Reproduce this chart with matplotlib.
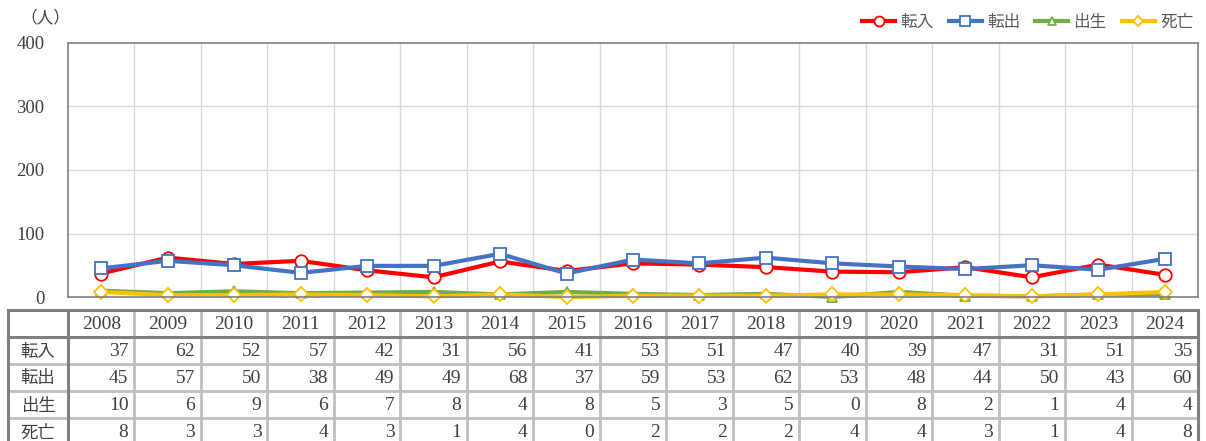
import matplotlib.pyplot as plt
from matplotlib.lines import Line2D

# データ
years = ["2008", "2009", "2010", "2011", "2012", "2013", "2014", "2015", "2016",
         "2017", "2018", "2019", "2020", "2021", "2022", "2023", "2024"]
tennyu = [37, 62, 52, 57, 42, 31, 56, 41, 53, 51, 47, 40, 39, 47, 31, 51, 35]
tenshutsu = [45, 57, 50, 38, 49, 49, 68, 37, 59, 53, 62, 53, 48, 44, 50, 43, 60]
shussei = [10, 6, 9, 6, 7, 8, 4, 8, 5, 3, 5, 0, 8, 2, 1, 4, 4]
shibou = [8, 3, 3, 4, 3, 1, 4, 0, 2, 2, 2, 4, 4, 3, 1, 4, 8]
series_names = ["転入", "転出", "出生", "死亡"]
yticks = [0, 100, 200, 300, 400]

FONT = ["Liberation Serif", "Noto Sans CJK JP"]
JP = ["Noto Sans CJK JP", "DejaVu Sans"]
TXT = "#404040"

W, H = 1206, 441
fig = plt.figure(figsize=(W / 100, H / 100), dpi=100)

# グラフ領域 (ピクセル)
x0, x1 = 68, 1198
y_top, y_bot = 43, 297
ax = fig.add_axes([x0 / W, 1 - y_bot / H, (x1 - x0) / W, (y_bot - y_top) / H])

n = len(years)
xs = list(range(n))

styles = [
    (tennyu, "#FF0000", "o", 9),
    (tenshutsu, "#4472C4", "s", 9),
    (shussei, "#70AD47", "^", 7.5),
    (shibou, "#FFC000", "D", 7),
]
handles = []
for (vals, col, mk, ms), name in zip(styles, series_names):
    ln, = ax.plot(xs, vals, color=col, lw=3, marker=mk, ms=ms,
                  mfc="white", mec=col, mew=1.3, label=name, clip_on=False,
                  solid_joinstyle="round")
    handles.append(ln)

ax.set_xlim(-0.5, n - 0.5)
ax.set_ylim(0, 400)
ax.set_yticks(yticks)
ax.set_yticklabels([str(v) for v in yticks], family=FONT, fontsize=13.5, color=TXT)
ax.tick_params(axis="y", length=0, pad=17)
ax.set_xticks([])
for b in range(1, n):
    ax.axvline(b - 0.5, color="#D9D9D9", lw=1, zorder=0)
for v in yticks[1:-1]:
    ax.axhline(v, color="#D9D9D9", lw=1, zorder=0)
for s in ax.spines.values():
    s.set_color("#808080")
    s.set_linewidth(1.2)

fig.text(20 / W, 1 - 18 / H, "（人）", family=JP, fontsize=12, color=TXT,
         ha="left", va="center")

leg = fig.legend(handles=handles, loc="center right", ncol=4,
                 bbox_to_anchor=(1200 / W, 1 - 22 / H), frameon=False,
                 prop={"family": JP, "size": 12}, handlelength=2.0,
                 markerscale=0.8, columnspacing=0.9, handletextpad=0.3,
                 borderaxespad=0)
for t in leg.get_texts():
    t.set_color("#595959")

# データテーブル
tx0 = 8
col_w = (x1 - x0) / n
row_top = 310
row_h = 27
rows = [tennyu, tenshutsu, shussei, shibou]


def fx(px):
    return px / W


def fy(py):
    return 1 - py / H


light = "#BFBFBF"
dark = "#808080"
nrows = len(rows) + 1
tab_bot = row_top + row_h * nrows

# 縦線
for k in range(1, n):
    xp = x0 + k * col_w
    fig.add_artist(Line2D([fx(xp), fx(xp)], [fy(row_top), fy(tab_bot)],
                          color=light, lw=2))
# 横線
for r in range(2, nrows):
    yp = row_top + r * row_h
    fig.add_artist(Line2D([fx(tx0), fx(x1)], [fy(yp), fy(yp)], color=light, lw=2))
# 濃い線
for xp in (tx0, x0, x1):
    fig.add_artist(Line2D([fx(xp), fx(xp)], [fy(row_top), fy(tab_bot)],
                          color=dark, lw=2.2))
for yp in (row_top, row_top + row_h):
    fig.add_artist(Line2D([fx(tx0), fx(x1)], [fy(yp), fy(yp)], color=dark, lw=2.2))

for k, yr in enumerate(years):
    cx = x0 + (k + 0.5) * col_w
    fig.text(fx(cx), fy(row_top + row_h / 2 + 1), yr, family=FONT, fontsize=14,
             color=TXT, ha="center", va="center")

for r, (name, vals) in enumerate(zip(series_names, rows)):
    cy = row_top + (r + 1.5) * row_h + 1
    fig.text(fx((tx0 + x0) / 2), fy(cy), name, family=JP, fontsize=12.5,
             color=TXT, ha="center", va="center")
    for k, v in enumerate(vals):
        rx = x0 + (k + 1) * col_w - 6
        fig.text(fx(rx), fy(cy), str(v), family=FONT, fontsize=14,
                 color=TXT, ha="right", va="center")

fig.savefig("out.png", dpi=100)
